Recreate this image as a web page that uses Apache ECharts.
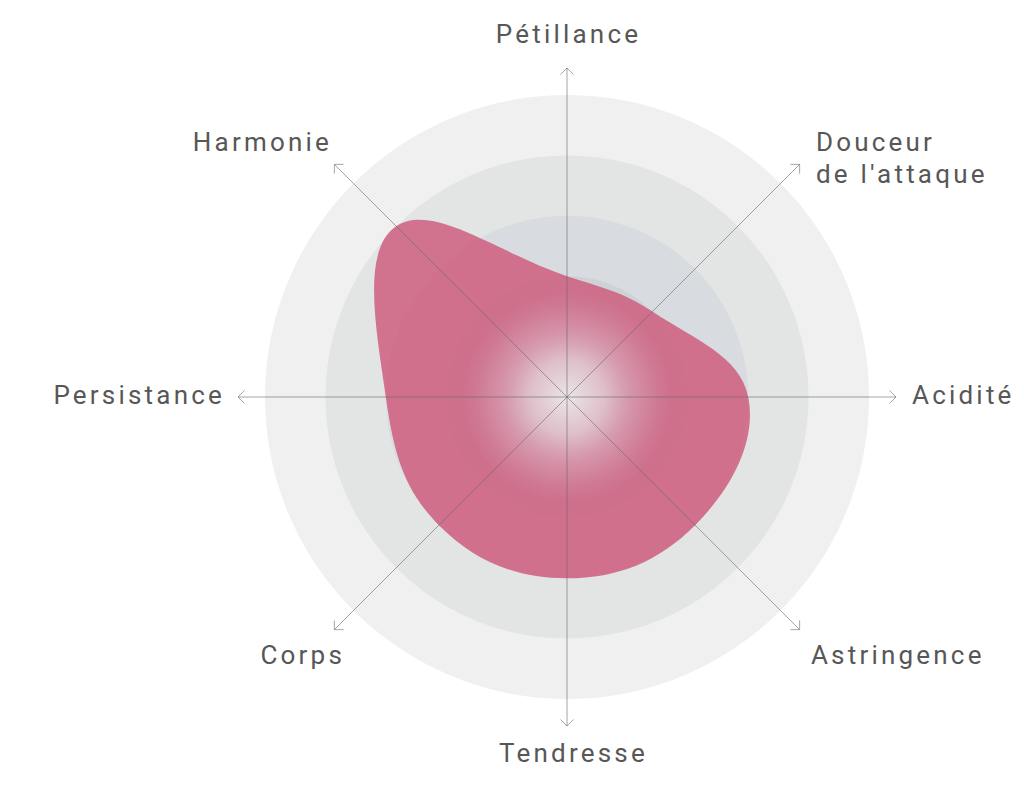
<!DOCTYPE html>
<html><head><meta charset="utf-8">
<script src="https://cdn.jsdelivr.net/npm/echarts@6/dist/echarts.min.js"></script>
<style>html,body{margin:0;padding:0;background:#fff}#c{width:1024px;height:789px}#c text{letter-spacing:3.2px}</style>
</head><body><div id="c"></div>
<script>
// ---- data ----
const categories = ['Pétillance', "Douceur\nde l'attaque", 'Acidité', 'Astringence', 'Tendresse', 'Corps', 'Persistance', 'Harmonie'];
const values = [2, 2, 3, 3, 3, 3, 3, 4];
const scaleMax = 5;
const ringLevels = [5, 4, 3, 2, 1];

// ---- style ----
const axisMax = scaleMax * 329 / 302;      // spokes run a little past the outer ring
const labelRadius = scaleMax * 345 / 302;
const ringColors = ['#f0f0f0', '#e3e5e5', '#d8dce0', '#ced2d7', '#c6cacf'];
const labelNudge = { 'Harmonie': 9, "Douceur\nde l'attaque": 5, 'Corps': 22, 'Persistance': 3, 'Tendresse': 5 };
const textColor = '#575757';
const FONT = 'Roboto, "Noto Sans", sans-serif';

const chart = echarts.init(document.getElementById('c'), null, { renderer: 'svg' });

function radiusPx(api, v) {
  const c = api.coord([0, 0]), p = api.coord([v, 0]);
  return Math.hypot(p[0] - c[0], p[1] - c[1]);
}

const option = {
  animation: false,
  polar: { center: [567, 397], radius: 329 },
  angleAxis: {
    type: 'category', data: categories, boundaryGap: false, startAngle: 90, clockwise: true,
    axisLine: { show: false }, axisTick: { show: false }, axisLabel: { show: false }, splitLine: { show: false }
  },
  radiusAxis: {
    type: 'value', min: 0, max: axisMax,
    axisLine: { show: false }, axisTick: { show: false }, axisLabel: { show: false }, splitLine: { show: false }
  },
  series: [
    { // concentric bands
      type: 'custom', coordinateSystem: 'polar', z: 1, silent: true,
      data: ringLevels.map(v => [v, 0]),
      renderItem(params, api) {
        const c = api.coord([0, 0]);
        return { type: 'circle', shape: { cx: c[0], cy: c[1], r: radiusPx(api, api.value(0)) },
                 style: { fill: ringColors[params.dataIndex] } };
      }
    },
    { // smooth filled profile
      type: 'custom', coordinateSystem: 'polar', z: 2, silent: true,
      data: values.map((v, i) => [v, i]),
      renderItem(params, api) {
        if (params.dataIndex !== 0) return null;
        const pts = [];
        for (let i = 0; i < params.dataInsideLength; i++) {
          pts.push(api.coord([api.value(0, i), api.value(1, i)]));
        }
        return { type: 'polygon', shape: { points: pts, smooth: 0.4 },
                 style: { fill: 'rgba(206,94,127,0.86)' } };
      }
    },
    { // soft glow at centre
      type: 'custom', coordinateSystem: 'polar', z: 3, silent: true,
      data: [[1.75, 0]],
      renderItem(params, api) {
        const c = api.coord([0, 0]);
        return { type: 'circle', shape: { cx: c[0], cy: c[1], r: radiusPx(api, api.value(0)) },
                 style: { fill: { type: 'radial', x: 0.5, y: 0.5, r: 0.5, colorStops: [
                   { offset: 0, color: 'rgba(236,234,236,0.96)' },
                   { offset: 0.35, color: 'rgba(230,226,230,0.7)' },
                   { offset: 0.6, color: 'rgba(226,220,226,0.35)' },
                   { offset: 0.85, color: 'rgba(224,218,224,0.1)' },
                   { offset: 1, color: 'rgba(224,218,224,0)' } ] } } };
      }
    },
    { // spokes, arrowheads, labels
      type: 'custom', coordinateSystem: 'polar', z: 4, silent: true,
      data: categories.map((c, i) => [axisMax, i]),
      renderItem(params, api) {
        const i = api.value(1);
        const c = api.coord([0, i]);
        const t = api.coord([api.value(0), i]);
        const len = Math.hypot(t[0] - c[0], t[1] - c[1]);
        const dx = (t[0] - c[0]) / len, dy = (t[1] - c[1]) / len;
        const nx = -dy, ny = dx, a = 6.5;
        const w1 = [t[0] - dx * a + nx * a, t[1] - dy * a + ny * a];
        const w2 = [t[0] - dx * a - nx * a, t[1] - dy * a - ny * a];
        const name = categories[i];
        const lr = len * labelRadius / axisMax;
        let lx = c[0] + dx * lr, ly = c[1] + dy * lr - 2;
        let align = Math.abs(dx) < 0.3 ? 'center' : (dx > 0 ? 'left' : 'right');
        let valign;
        if (Math.abs(dy) < 0.3) valign = 'middle';
        else if (dy > 0) { valign = 'top'; if (Math.abs(dx) < 0.3) ly -= 3; }
        else if (Math.abs(dx) < 0.3) valign = 'bottom';
        else { valign = 'top'; ly -= 25; }
        if (labelNudge[name]) lx += labelNudge[name];
        if (align === 'center') lx += 1.5;
        const lineCol = 'rgba(105,105,105,0.6)';
        return { type: 'group', children: [
          { type: 'line', shape: { x1: c[0], y1: c[1], x2: t[0], y2: t[1] }, style: { stroke: lineCol, lineWidth: 1 } },
          { type: 'polyline', shape: { points: [w1, t, w2] }, style: { stroke: lineCol, lineWidth: 1, fill: null } },
          { type: 'text', x: lx, y: ly, style: { text: name, fill: textColor, fontSize: 26, fontFamily: FONT,
              lineHeight: 32, align: align, verticalAlign: valign } }
        ] };
      }
    }
  ]
};
chart.setOption(option);
</script>
</body></html>
